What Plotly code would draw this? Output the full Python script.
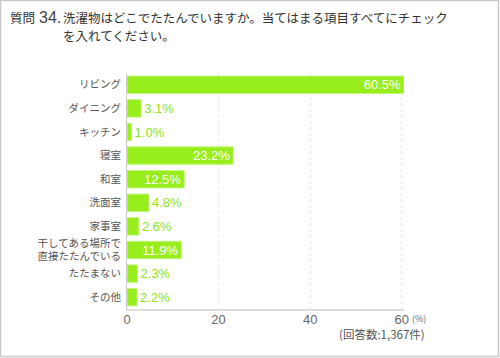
import plotly.graph_objects as go

categories = ["リビング", "ダイニング", "キッチン", "寝室", "和室", "洗面室", "家事室",
              "干してある場所で<br>直接たたんでいる", "たたまない", "その他"]
values = [60.5, 3.1, 1.0, 23.2, 12.5, 4.8, 2.6, 11.9, 2.3, 2.2]
tick_vals = [0, 20, 40, 60]
title_q = "質問"
title_num = "34."
title_line1 = "洗濯物はどこでたたんでいますか。当てはまる項目すべてにチェック"
title_line2 = "を入れてください。"
unit_label = "(%)"
count_label = "(回答数:1,367件)"

W, H = 500, 358
L, R, T, B = 127, 96, 73, 49
PX0, PX1 = L, W - R
PY0, PY1 = T, H - B

def fx(px):
    return (px - PX0) / (PX1 - PX0)

def fy(py):
    return (PY1 - py) / (PY1 - PY0)

GREEN = "#97ee1c"
inside = [v >= 10 for v in values]
positions = ["inside" if i else "outside" for i in inside]
text_colors = ["#ffffff" if i else "#8ee31a" for i in inside]

fig = go.Figure(go.Bar(
    x=values, y=categories, orientation="h",
    marker=dict(color=GREEN, line=dict(color="#c4f582", width=1)),
    width=0.74,
    texttemplate="%{x:.1f}%",
    textposition=positions,
    insidetextanchor="end",
    constraintext="none",
    cliponaxis=False,
    textfont=dict(color=text_colors, size=13, family="Liberation Sans, Arial, sans-serif"),
    hoverinfo="skip",
))

fig.update_layout(
    width=W, height=H,
    margin=dict(l=L, r=R, t=T, b=B, autoexpand=False),
    paper_bgcolor="white", plot_bgcolor="white",
    showlegend=False,
    bargap=0.26,
    font=dict(family="Noto Sans CJK JP, sans-serif", color="#555"),
    xaxis=dict(range=[0, 60.5], tickvals=tick_vals, showgrid=True,
               gridcolor="#e6e6e6", griddash="dot", gridwidth=1,
               zeroline=False, showline=True, linecolor="#dddddd", linewidth=2,
               tickfont=dict(size=13, color="#666", family="Liberation Sans, Arial, sans-serif"),
               ticks="", ticklabelstandoff=-3, fixedrange=True, automargin=False),
    yaxis=dict(autorange="reversed", showgrid=False, zeroline=False,
               showline=True, linecolor="#cccccc", linewidth=1,
               tickfont=dict(size=10.5, color="#555", family="Noto Sans CJK JP, sans-serif"),
               ticks="", ticklabelstandoff=3, fixedrange=True, automargin=False),
)

ann = []
ann.append(dict(x=fx(8), y=fy(18), xref="paper", yref="paper", text=title_q,
                showarrow=False, xanchor="left", yanchor="middle",
                font=dict(size=12.5, color="#333", family="Noto Sans CJK JP, sans-serif")))
ann.append(dict(x=fx(37), y=fy(18), xref="paper", yref="paper", text=title_num,
                showarrow=False, xanchor="left", yanchor="middle",
                font=dict(size=16, color="#444", family="Liberation Sans, Arial, sans-serif")))
ann.append(dict(x=fx(61), y=fy(18), xref="paper", yref="paper", text=title_line1,
                showarrow=False, xanchor="left", yanchor="middle",
                font=dict(size=12.5, color="#333", family="Noto Sans CJK JP, sans-serif")))
ann.append(dict(x=fx(61), y=fy(35), xref="paper", yref="paper", text=title_line2,
                showarrow=False, xanchor="left", yanchor="middle",
                font=dict(size=12.5, color="#333", family="Noto Sans CJK JP, sans-serif")))
ann.append(dict(x=fx(410), y=fy(318), xref="paper", yref="paper", text=unit_label,
                showarrow=False, xanchor="left", yanchor="middle",
                font=dict(size=9, color="#666", family="Noto Sans CJK JP, sans-serif")))
ann.append(dict(x=fx(427), y=fy(334), xref="paper", yref="paper", text=count_label,
                showarrow=False, xanchor="right", yanchor="middle",
                font=dict(size=11.5, color="#555", family="Noto Sans CJK JP, sans-serif")))
fig.update_layout(annotations=ann)

fig.add_shape(type="rect", xref="paper", yref="paper",
              x0=fx(0.5), x1=fx(498.5), y0=fy(0.5), y1=fy(356.5),
              line=dict(color="#c8c8c8", width=1.5), fillcolor="rgba(0,0,0,0)", layer="below")

fig.write_html("out.html", config={"displayModeBar": False},
               post_script="document.body.style.margin='0';document.body.style.overflow='hidden';")
